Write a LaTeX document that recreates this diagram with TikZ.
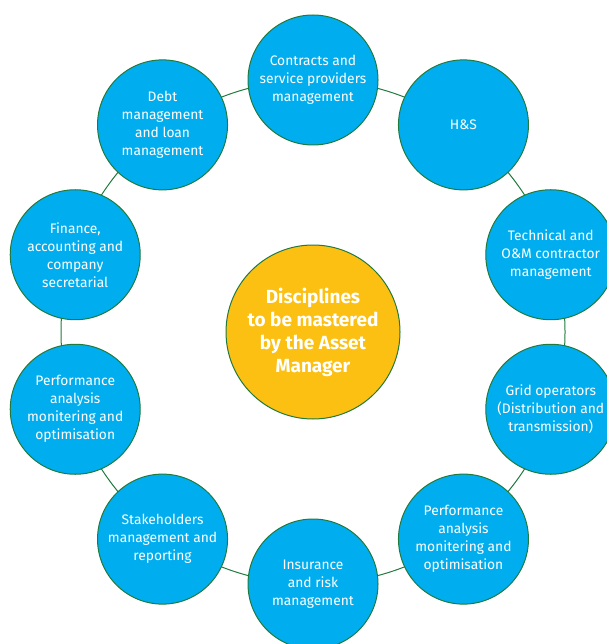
\documentclass[tikz,border=0pt]{standalone}
\usepackage{fontspec}
\setmainfont{Fira Sans}
\usetikzlibrary{positioning}

\definecolor{discblue}{RGB}{0,174,239}
\definecolor{amyellow}{RGB}{252,192,18}
\definecolor{ringgreen}{RGB}{32,122,62}

\tikzset{
  disc/.style={circle,draw=ringgreen,fill=discblue,line width=1pt,minimum size=130pt,inner sep=0pt,
    align=center,text=white,font=\fontsize{13.8}{18}\selectfont},
  hub/.style={circle,draw=ringgreen,fill=amyellow,line width=1pt,minimum size=174pt,inner sep=0pt,
    align=center,text=white,font=\fontsize{19}{23}\selectfont\bfseries}
}

\begin{document}
\begin{tikzpicture}[x=1pt,y=-1pt]
  \useasboundingbox (0,0) rectangle (606,644);

  \node[hub] (am) at (313,332) {Disciplines\\to be mastered\\by the Asset\\Manager};

  % ring through the discs
  \draw[ringgreen,line width=1pt] (am.center) circle (252);

  \foreach \n/\a/\r/\text in {1/-90/252/{Contracts and\\service providers\\management},
      2/-54/256/{H\&S},
      3/-18/250/{Technical and\\O\&M contractor\\management},
      4/18/250/{Grid operators\\(Distribution and\\transmission)},
      5/54/256/{Performance\\analysis\\monitering and\\optimisation},
      6/90/252/{Insurance\\and risk\\management},
      7/126/256/{Stakeholders\\management and\\reporting},
      8/162/250/{Performance\\analysis\\monitering and\\optimisation},
      9/198/250/{Finance,\\accounting and\\company\\secretarial},
      10/234/256/{Debt\\management\\and loan\\management}}
  {
    \node[disc] (d\n) at ([shift={(\a:\r)}]am.center) {\text};
  }
\end{tikzpicture}
\end{document}
